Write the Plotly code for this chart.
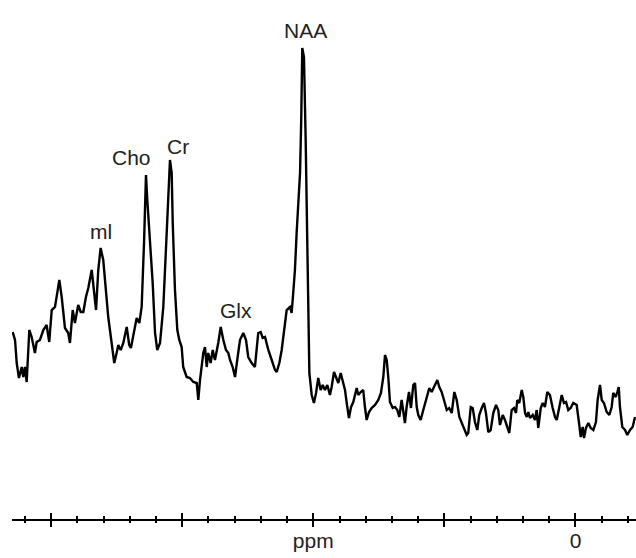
import plotly.graph_objects as go

# chemical shift (ppm) and signal intensity (arbitrary units)
ppm = [4.293, 4.275, 4.262, 4.245, 4.224, 4.212, 4.199, 4.186, 4.166, 4.148,
       4.123, 4.110, 4.085, 4.059, 4.034, 4.014, 3.995, 3.970, 3.937, 3.919,
       3.894, 3.869, 3.856, 3.835, 3.818, 3.793, 3.774, 3.754, 3.734, 3.716,
       3.690, 3.670, 3.657, 3.640, 3.622, 3.602, 3.581, 3.564, 3.538, 3.518,
       3.500, 3.487, 3.469, 3.449, 3.423, 3.404, 3.391, 3.373, 3.347, 3.327,
       3.309, 3.291, 3.276, 3.266, 3.246, 3.225, 3.207, 3.190, 3.169, 3.144,
       3.124, 3.106, 3.093, 3.080, 3.072, 3.055, 3.037, 3.022, 3.004, 2.992,
       2.966, 2.941, 2.915, 2.889, 2.877, 2.864, 2.839, 2.826, 2.813, 2.801,
       2.783, 2.767, 2.750, 2.725, 2.706, 2.686, 2.666, 2.648, 2.635, 2.615,
       2.597, 2.580, 2.559, 2.534, 2.513, 2.496, 2.470, 2.445, 2.432, 2.420,
       2.401, 2.386, 2.368, 2.343, 2.317, 2.292, 2.279, 2.259, 2.241, 2.224,
       2.203, 2.178, 2.165, 2.153, 2.140, 2.127, 2.114, 2.101, 2.092, 2.084,
       2.071, 2.063, 2.058, 2.050, 2.044, 2.038, 2.030, 2.012, 1.995, 1.979,
       1.962, 1.944, 1.928, 1.911, 1.893, 1.873, 1.860, 1.842, 1.827, 1.809,
       1.791, 1.776, 1.758, 1.745, 1.728, 1.712, 1.695, 1.669, 1.657, 1.638,
       1.619, 1.606, 1.593, 1.575, 1.555, 1.529, 1.504, 1.484, 1.466, 1.453,
       1.440, 1.428, 1.415, 1.394, 1.377, 1.359, 1.344, 1.326, 1.313, 1.301,
       1.288, 1.270, 1.255, 1.237, 1.224, 1.211, 1.199, 1.181, 1.161, 1.135,
       1.115, 1.097, 1.072, 1.054, 1.039, 1.021, 1.003, 0.982, 0.963, 0.944,
       0.924, 0.906, 0.886, 0.868, 0.850, 0.830, 0.818, 0.799, 0.784, 0.767,
       0.749, 0.734, 0.715, 0.698, 0.683, 0.665, 0.647, 0.627, 0.606, 0.589,
       0.576, 0.555, 0.538, 0.520, 0.505, 0.487, 0.469, 0.454, 0.444, 0.429,
       0.410, 0.398, 0.385, 0.372, 0.360, 0.347, 0.326, 0.309, 0.296, 0.284,
       0.265, 0.250, 0.233, 0.215, 0.195, 0.174, 0.156, 0.143, 0.124, 0.105,
       0.088, 0.072, 0.055, 0.037, 0.017, -0.009, -0.027, -0.040, -0.055, -0.065,
       -0.080, -0.098, -0.116, -0.136, -0.156, -0.169, -0.187, -0.200, -0.217, -0.238,
       -0.258, -0.276, -0.288, -0.307, -0.319, -0.330, -0.339, -0.357, -0.378, -0.395,
       -0.416, -0.436, -0.454]
intensity = [187, 179, 156, 141, 152, 142, 152, 137, 189, 182,
             166, 177, 179, 189, 194, 177, 209, 212, 239, 222,
             191, 186, 176, 209, 196, 214, 207, 207, 222, 231,
             249, 222, 209, 249, 271, 259, 229, 202, 176, 156,
             166, 174, 169, 176, 192, 174, 171, 182, 201, 196,
             212, 276, 344, 319, 279, 236, 186, 169, 176, 212,
             269, 319, 359, 346, 296, 229, 189, 179, 172, 152,
             142, 141, 137, 136, 119, 139, 166, 172, 152, 166,
             156, 169, 159, 176, 192, 179, 169, 166, 159, 152,
             142, 159, 179, 186, 179, 162, 156, 152, 169, 186,
             187, 181, 182, 169, 159, 149, 147, 156, 169, 189,
             209, 212, 206, 226, 249, 286, 312, 346, 399, 471,
             462, 419, 379, 312, 249, 189, 146, 124, 116, 126,
             141, 129, 134, 129, 134, 124, 132, 147, 142, 136,
             146, 139, 129, 116, 101, 112, 117, 131, 124, 127,
             129, 112, 99, 107, 111, 114, 119, 126, 142, 164,
             159, 142, 117, 111, 112, 109, 102, 119, 109, 96,
             112, 127, 111, 134, 136, 112, 104, 99, 109, 122,
             131, 127, 134, 139, 132, 127, 119, 109, 111, 106,
             127, 119, 102, 96, 89, 84, 86, 112, 111, 97,
             89, 104, 111, 116, 106, 87, 89, 106, 114, 109,
             94, 104, 99, 92, 86, 109, 111, 106, 119, 116,
             129, 122, 106, 102, 107, 101, 104, 99, 109, 91,
             111, 116, 112, 127, 124, 111, 102, 99, 112, 124,
             116, 117, 109, 111, 116, 114, 96, 82, 92, 81,
             91, 96, 91, 89, 97, 119, 134, 119, 116, 107,
             104, 112, 126, 122, 127, 132, 112, 92, 89, 84,
             89, 92, 102]

# peak labels and their positions (ppm, intensity)
peak_names = ["ml", "Cho", "Cr", "Glx", "NAA"]
peak_ppm = [3.62, 3.39, 3.03, 2.59, 2.06]
peak_lab_y = [288, 362, 373, 209, 489]

tick_vals = [4, 3, 2, 1, 0]
tick_text = ["", "", "ppm", "", "0"]

x_range = [4.298, -0.4615]
y_range = [0, 519]

FONT = "Liberation Sans, Arial, sans-serif"

fig = go.Figure()
fig.add_trace(go.Scatter(x=ppm, y=intensity, mode="lines",
                         line=dict(color="black", width=2.4), hoverinfo="skip",
                         showlegend=False))
fig.add_trace(go.Scatter(x=ppm, y=intensity, mode="lines", xaxis="x2",
                         line=dict(color="rgba(0,0,0,0)", width=0), hoverinfo="skip",
                         showlegend=False))

for name, px, py in zip(peak_names, peak_ppm, peak_lab_y):
    fig.add_annotation(x=px, y=py, text=name, showarrow=False,
                       xanchor="center", yanchor="middle",
                       font=dict(family=FONT, size=21, color="#222"))

fig.update_layout(
    width=636, height=558,
    margin=dict(l=12, r=0, t=0, b=39),
    paper_bgcolor="white", plot_bgcolor="white",
    # labelled axis: inside (upper) half of the crossing ticks
    xaxis=dict(range=x_range, showgrid=False, zeroline=False,
               showline=True, linecolor="black", linewidth=2,
               tickmode="array", tickvals=tick_vals, ticktext=tick_text,
               ticks="inside", ticklen=6, tickwidth=2, tickcolor="black",
               minor=dict(dtick=0.2, ticks="inside", ticklen=3, tickwidth=2, tickcolor="black", showgrid=False),
               ticklabelstandoff=2,
               tickfont=dict(family=FONT, size=21, color="#222")),
    # overlay axis: outside (lower) half of the crossing ticks
    xaxis2=dict(range=x_range, overlaying="x", anchor="y", side="bottom",
                showgrid=False, zeroline=False, showline=False,
                tickmode="array", tickvals=tick_vals, ticktext=["", "", "", "", ""],
                ticks="outside", ticklen=7, tickwidth=2, tickcolor="black",
                minor=dict(dtick=0.2, ticks="outside", ticklen=3, tickwidth=2, tickcolor="black", showgrid=False)),
    yaxis=dict(range=y_range, visible=False, showgrid=False, zeroline=False),
)

fig.write_html("out.html")
